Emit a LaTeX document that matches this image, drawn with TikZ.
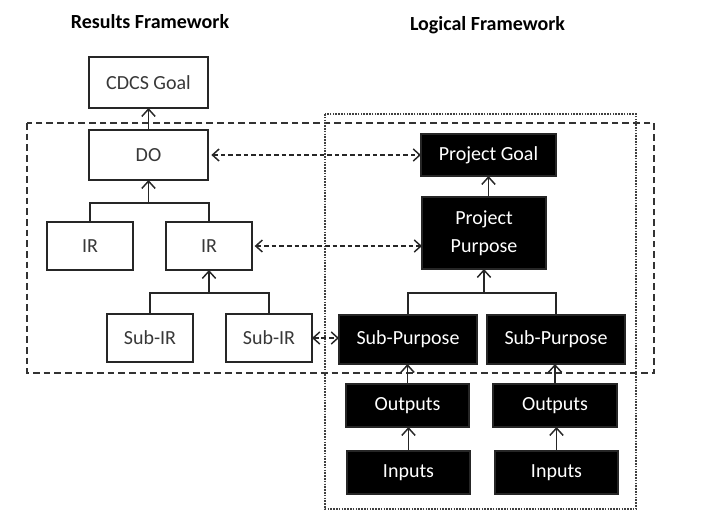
\documentclass[tikz,border=0pt]{standalone}
\usepackage{fontspec}
\setmainfont{Carlito}
\usetikzlibrary{arrows.meta}
\begin{document}
\begin{tikzpicture}[x=0.75pt,y=-0.75pt,
  box/.style={draw=black!85,line width=1.1pt,inner sep=0pt,outer sep=0pt,font=\fontsize{15}{21}\selectfont,align=center},
  wbox/.style={box,fill=white,text=black!78},
  bbox/.style={box,fill=black,text=white},
  sz/.style 2 args={minimum width=#1*0.75pt,minimum height=#2*0.75pt},
  tip/.style={-{Straight Barb[length=5.5pt,width=10pt,line width=1.1pt]},line width=1.1pt,black!85},
  tree/.style={line width=1.1pt,black!85},
  link/.style={{Straight Barb[length=5pt,width=9pt]}-{Straight Barb[length=5pt,width=9pt]},line width=1.1pt,dash pattern=on 3.5pt off 2.2pt,black!85},
  title/.style={font=\bfseries\fontsize{15}{18}\selectfont}
]
\useasboundingbox (0,0) rectangle (710,522);
% frames
\draw[line width=1.3pt,dash pattern=on 5pt off 3pt,black!80] (27,123) rectangle (654,373);
\draw[line width=0.9pt,dash pattern=on 1.2pt off 0.9pt,black!75] (325,114) rectangle (636,509);
% titles
\node[title] (t1) at (150,22) {Results Framework};
\node[title] (t2) at (487.5,25) {Logical Framework};
% results framework
\node[wbox,sz={119}{51}] (cdcs) at (148.5,82.5) {CDCS Goal};
\node[wbox,sz={119}{50}] (do) at (148.5,155) {DO};
\node[wbox,sz={86}{48}] (ir1) at (90,246) {IR};
\node[wbox,sz={86}{48}] (ir2) at (209,246) {IR};
\node[wbox,sz={86}{48}] (sir1) at (150,338) {Sub-IR};
\node[wbox,sz={86}{48}] (sir2) at (269,338) {Sub-IR};
% logical framework
\node[bbox,sz={135}{42}] (pg) at (488.5,155) {Project Goal};
\node[bbox,sz={124}{72}] (pp) at (484,233) {Project\\Purpose};
\node[bbox,sz={138}{49}] (sp1) at (408,339.5) {Sub-Purpose};
\node[bbox,sz={138}{49}] (sp2) at (556,339.5) {Sub-Purpose};
\node[bbox,sz={123}{43}] (o1) at (407.5,405.5) {Outputs};
\node[bbox,sz={124}{43}] (o2) at (555,405.5) {Outputs};
\node[bbox,sz={123}{43}] (i1) at (408.5,472.5) {Inputs};
\node[bbox,sz={123}{43}] (i2) at (556.5,472.5) {Inputs};
% results tree
\draw[tip] (do.north) -- (cdcs.south);
\coordinate (j1) at (148.5,203);
\draw[tree] (ir1.north) |- (j1) -| (ir2.north);
\draw[tip] (j1) -- (do.south);
\coordinate (j2) at (209,293);
\draw[tree] (sir1.north) |- (j2) -| (sir2.north);
\draw[tip] (j2) -- (ir2.south);
% logical tree
\draw[tip] (pp.north -| pg.south) -- (pg.south);
\coordinate (j3) at (484,293);
\draw[tree] (sp1.north) |- (j3) -| (sp2.north);
\draw[tip] (j3) -- (pp.south);
\draw[tip] (o1.north) -- (o1.north |- sp1.south);
\draw[tip] (o2.north) -- (o2.north |- sp2.south);
\draw[tip] (i1.north) -- (i1.north |- o1.south);
\draw[tip] (i2.north) -- (i2.north |- o2.south);
% links
\draw[link,shorten <=2.5pt] (do.east) -- (do.east -| pg.west);
\draw[link,shorten <=2pt] (ir2.east) -- (ir2.east -| pp.west);
\draw[link] (sir2.east) -- (sir2.east -| sp1.west);
\end{tikzpicture}
\end{document}
